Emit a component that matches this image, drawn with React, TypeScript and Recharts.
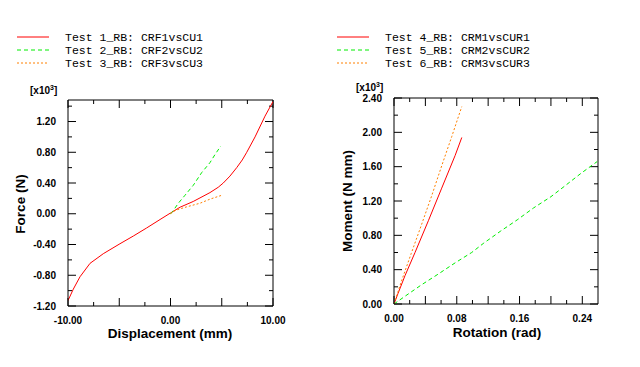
import React from 'react'
import { LineChart, Line, XAxis, YAxis, ReferenceLine } from 'recharts'

// Force vs displacement (force in x10^3 N)
const test1 = [
  { x: -10, y: -1.13 }, { x: -9.48, y: -0.98 }, { x: -8.83, y: -0.82 }, { x: -7.85, y: -0.645 },
  { x: -6.56, y: -0.52 }, { x: -4.93, y: -0.39 }, { x: -3.63, y: -0.29 }, { x: -2.33, y: -0.185 },
  { x: -1.02, y: -0.075 }, { x: 0, y: 0.01 }, { x: 0.93, y: 0.085 }, { x: 2.22, y: 0.16 },
  { x: 3.85, y: 0.275 }, { x: 4.66, y: 0.345 }, { x: 5.15, y: 0.4 }, { x: 5.8, y: 0.49 },
  { x: 6.46, y: 0.6 }, { x: 7.0, y: 0.7 }, { x: 7.44, y: 0.8 }, { x: 8.25, y: 1.0 },
  { x: 9.22, y: 1.27 }, { x: 10, y: 1.46 },
]
const test2 = [
  { x: 0, y: 0 }, { x: 0.21, y: 0.03 }, { x: 0.76, y: 0.136 }, { x: 1.41, y: 0.24 },
  { x: 2.22, y: 0.37 }, { x: 3.04, y: 0.535 }, { x: 3.85, y: 0.665 }, { x: 4.34, y: 0.77 },
  { x: 4.9, y: 0.88 },
]
const test3 = [
  { x: 0, y: 0 }, { x: 0.3, y: 0.03 }, { x: 0.6, y: 0.05 }, { x: 1.58, y: 0.09 },
  { x: 2.88, y: 0.137 }, { x: 3.85, y: 0.19 }, { x: 4.99, y: 0.24 },
]

// Moment vs rotation (moment in x10^3 N mm)
const test4 = [
  { x: 0, y: 0 }, { x: 0.005, y: 0.12 }, { x: 0.014, y: 0.33 }, { x: 0.0268, y: 0.6 },
  { x: 0.0438, y: 0.97 }, { x: 0.0608, y: 1.35 }, { x: 0.0779, y: 1.73 }, { x: 0.0864, y: 1.94 },
]
const test5 = [
  { x: 0, y: 0 }, { x: 0.014, y: 0.09 }, { x: 0.0353, y: 0.225 }, { x: 0.0566, y: 0.35 },
  { x: 0.078, y: 0.48 }, { x: 0.099, y: 0.6 }, { x: 0.1145, y: 0.71 }, { x: 0.136, y: 0.85 },
  { x: 0.157, y: 0.98 }, { x: 0.178, y: 1.12 }, { x: 0.2, y: 1.25 }, { x: 0.217, y: 1.37 },
  { x: 0.238, y: 1.52 }, { x: 0.259, y: 1.66 },
]
const test6 = [
  { x: 0, y: 0 }, { x: 0.01, y: 0.28 }, { x: 0.022, y: 0.59 }, { x: 0.0353, y: 0.93 },
  { x: 0.048, y: 1.26 }, { x: 0.0608, y: 1.61 }, { x: 0.0736, y: 1.95 }, { x: 0.082, y: 2.18 },
  { x: 0.0864, y: 2.3 },
]

const forceTicks = [-1.2, -1.0, -0.8, -0.6, -0.4, -0.2, 0, 0.2, 0.4, 0.6, 0.8, 1.0, 1.2, 1.4]
const dispTicks = [-10, -7.5, -5, -2.5, 0, 2.5, 5, 7.5, 10]
const momentTicks = [0, 0.2, 0.4, 0.6, 0.8, 1.0, 1.2, 1.4, 1.6, 1.8, 2.0, 2.2, 2.4]
const rotTicks = [0, 0.02, 0.04, 0.06, 0.08, 0.1, 0.12, 0.14, 0.16, 0.18, 0.2, 0.22, 0.24]

const leftLegend = ['Test 1_RB: CRF1vsCU1', 'Test 2_RB: CRF2vsCU2', 'Test 3_RB: CRF3vsCU3']
const rightLegend = ['Test 4_RB: CRM1vsCUR1', 'Test 5_RB: CRM2vsCUR2', 'Test 6_RB: CRM3vsCUR3']

const styles = [
  { color: '#ff0000', dash: undefined },
  { color: '#00ee00', dash: '4 3' },
  { color: '#ff8000', dash: '2 2' },
]

const FONT = '"Liberation Sans", Arial, sans-serif'
const W = 320
const H = 367

const isMult = (v: number, step: number) => Math.abs(v / step - Math.round(v / step)) < 1e-6

function makeLabel(side: string, step: number) {
  return (props: any) => {
    const v = props.payload.value
    if (!isMult(v, step)) return <g />
    const txt = { fontFamily: FONT, fontWeight: 'bold' as const, fontSize: 10, fill: '#000' }
    if (side === 'left') {
      return <text x={props.x + 2} y={props.y} dy={3.5} textAnchor="end" {...txt}>{v.toFixed(2)}</text>
    }
    return <text x={props.x} y={props.y} dy={4} textAnchor="middle" {...txt}>{v.toFixed(2)}</text>
  }
}

interface PanelProps {
  series: { x: number; y: number }[][]
  xDomain: [number, number]
  yDomain: [number, number]
  xTicks: number[]
  yTicks: number[]
  xMajor: number
  xLabel: number
  yMajor: number
  yLabel: number
  margin: { top: number; right: number }
  yWidth: number
  xHeight: number
}

function Panel(p: PanelProps) {
  const plotW = W - p.margin.right - p.yWidth
  const plotH = H - p.xHeight - p.margin.top
  const [x0, x1] = p.xDomain
  const [y0, y1] = p.yDomain
  // tick lengths in data units (8px major, 4px minor), drawn inward on all four sides
  const lx = (px: number) => (px * (x1 - x0)) / plotW
  const ly = (px: number) => (px * (y1 - y0)) / plotH
  const frame = { stroke: '#000', strokeWidth: 1, ifOverflow: 'visible' as const }
  return (
    <LineChart width={W} height={H} margin={{ top: p.margin.top, right: p.margin.right, left: 0, bottom: 0 }}>
      <XAxis type="number" dataKey="x" domain={p.xDomain} allowDataOverflow ticks={p.xTicks} interval={0}
        height={p.xHeight} axisLine={{ stroke: '#000' }} tickLine={false} tickMargin={8}
        tick={makeLabel('bottom', p.xLabel)} />
      <YAxis type="number" domain={p.yDomain} allowDataOverflow ticks={p.yTicks} interval={0}
        width={p.yWidth} axisLine={{ stroke: '#000' }} tickLine={false} tickMargin={8}
        tick={makeLabel('left', p.yLabel)} />
      <ReferenceLine y={y1} {...frame} />
      <ReferenceLine x={x1} {...frame} />
      {p.yTicks.map((v) => {
        const len = lx(isMult(v, p.yMajor) ? 8 : 4)
        return (
          <React.Fragment key={'y' + v}>
            <ReferenceLine segment={[{ x: x0, y: v }, { x: x0 + len, y: v }]} {...frame} />
            <ReferenceLine segment={[{ x: x1 - len, y: v }, { x: x1, y: v }]} {...frame} />
          </React.Fragment>
        )
      })}
      {p.xTicks.map((v) => {
        const len = ly(isMult(v, p.xMajor) ? 8 : 4)
        return (
          <React.Fragment key={'x' + v}>
            <ReferenceLine segment={[{ x: v, y: y0 }, { x: v, y: y0 + len }]} {...frame} />
            <ReferenceLine segment={[{ x: v, y: y1 - len }, { x: v, y: y1 }]} {...frame} />
          </React.Fragment>
        )
      })}
      {p.series.map((d, i) => (
        <Line key={i} data={d} dataKey="y" type="linear" stroke={styles[i].color}
          strokeDasharray={styles[i].dash} strokeWidth={1} dot={false} isAnimationActive={false} />
      ))}
    </LineChart>
  )
}

function Legend({ items, x, y }: { items: string[]; x: number; y: number }) {
  return (
    <g>
      {items.map((name, i) => (
        <g key={name}>
          <line x1={x} x2={x + 32} y1={y + i * 13} y2={y + i * 13} stroke={styles[i].color}
            strokeDasharray={styles[i].dash} />
          <text x={x + 48} y={y + i * 13 + 4} fontFamily='"Liberation Mono", "DejaVu Sans Mono", monospace'
            fontSize={11.5} fill="#000">{name}</text>
        </g>
      ))}
    </g>
  )
}

export default function App() {
  const title = { fontFamily: FONT, fontWeight: 'bold' as const, fontSize: 13.5, fill: '#000' }
  const mult = { fontFamily: FONT, fontWeight: 'bold' as const, fontSize: 10, fill: '#000' }
  return (
    <div style={{ position: 'absolute', left: 0, top: 0, width: 640, height: 367, background: '#fff' }}>
      <div style={{ position: 'absolute', left: 0, top: 0 }}>
        <Panel series={[test1, test2, test3]} xDomain={[-10, 10]} yDomain={[-1.2, 1.48]}
          xTicks={dispTicks} yTicks={forceTicks} xMajor={5} xLabel={10} yMajor={0.4} yLabel={0.4}
          margin={{ top: 100, right: 47 }} yWidth={68} xHeight={61} />
      </div>
      <div style={{ position: 'absolute', left: 320, top: 0 }}>
        <Panel series={[test4, test5, test6]} xDomain={[0, 0.26]} yDomain={[0, 2.4]}
          xTicks={rotTicks} yTicks={momentTicks} xMajor={0.04} xLabel={0.08} yMajor={0.4} yLabel={0.4}
          margin={{ top: 98, right: 42 }} yWidth={74} xHeight={63} />
      </div>
      <svg width={640} height={367} style={{ position: 'absolute', left: 0, top: 0, pointerEvents: 'none' }}>
        <Legend items={leftLegend} x={17} y={37} />
        <Legend items={rightLegend} x={337} y={37} />
        <text x={30} y={94} {...mult}>[x10<tspan dy={-4} fontSize={7}>3</tspan><tspan dy={4}>]</tspan></text>
        <text x={356} y={91} {...mult}>[x10<tspan dy={-4} fontSize={7}>3</tspan><tspan dy={4}>]</tspan></text>
        <text x={170} y={338} textAnchor="middle" {...title}>Displacement (mm)</text>
        <text x={497} y={337} textAnchor="middle" {...title}>Rotation (rad)</text>
        <text transform="translate(25,204) rotate(-90)" textAnchor="middle" {...title}>Force (N)</text>
        <text transform="translate(352,201) rotate(-90)" textAnchor="middle" {...title}>Moment (N mm)</text>
      </svg>
    </div>
  )
}
